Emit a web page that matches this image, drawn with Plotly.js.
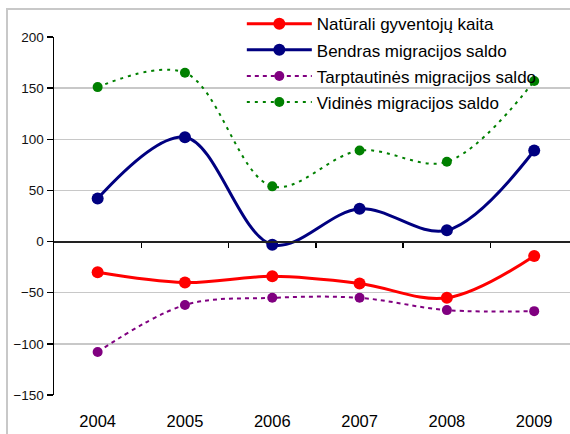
<!DOCTYPE html>
<html>
<head>
<meta charset="utf-8">
<script src="https://cdn.plot.ly/plotly-3.0.1.min.js"></script>
<style>html,body{margin:0;padding:0;background:#fff;}#chart{width:570px;height:434px;}</style>
</head>
<body>
<div id="chart"></div>
<script>
const years = ["2004", "2005", "2006", "2007", "2008", "2009"];
const naturali = [-30, -40, -34, -41, -55, -14];
const bendras = [42, 102, -3, 32, 11, 89];
const tarptautines = [-108, -62, -55, -55, -67, -68];
const vidines = [151, 165, 54, 89, 78, 157];
const seriesNames = ["Natūrali gyventojų kaita", "Bendras migracijos saldo", "Tarptautinės migracijos saldo", "Vidinės migracijos saldo"];
const yTicks = [-150, -100, -50, 0, 50, 100, 150, 200];
const boundaryTicks = [0.5, 1.5, 2.5, 3.5, 4.5];

const font = "Liberation Sans, Arial, sans-serif";

const traces = [
  {x: years, y: naturali, name: seriesNames[0], legendgroup: "g1", mode: "lines+markers",
   line: {color: "#ff0000", width: 3, shape: "spline", smoothing: 1},
   marker: {color: "#ff0000", size: 12}},
  {x: years, y: bendras, name: seriesNames[1], legendgroup: "g2", mode: "lines+markers",
   line: {color: "#000080", width: 3, shape: "spline", smoothing: 1},
   marker: {color: "#000080", size: 12}},
  {x: years, y: tarptautines, name: seriesNames[2], legendgroup: "g3", mode: "lines+markers",
   line: {color: "#800080", width: 2, dash: "4px,4px", shape: "spline", smoothing: 1},
   marker: {color: "#800080", size: 10}},
  {x: years, y: vidines, name: seriesNames[3], legendgroup: "g4", mode: "lines+markers",
   line: {color: "#008000", width: 2, dash: "3px,5px", shape: "spline", smoothing: 1},
   marker: {color: "#008000", size: 10}},
  {x: [], y: [], xaxis: "x2", yaxis: "y", showlegend: false, hoverinfo: "skip", mode: "lines"}
];

const layout = {
  width: 570, height: 434,
  margin: {l: 54, r: 0, t: 37, b: 39, pad: 0},
  paper_bgcolor: "#ffffff", plot_bgcolor: "rgba(0,0,0,0)",
  font: {family: font, color: "#000000"},
  showlegend: true,
  legend: {x: 0.364, y: 1.086, xanchor: "left", yanchor: "top",
           bgcolor: "rgba(0,0,0,0)", borderwidth: 0,
           font: {family: font, size: 17, color: "#000000"},
           itemwidth: 65, tracegroupgap: 1},
  xaxis: {type: "category", range: [-0.5, 5.41], showline: false, showgrid: false,
          zeroline: false, ticks: "", ticklabelstandoff: 14,
          tickfont: {family: font, size: 16.5, color: "#000000"}, fixedrange: true},
  xaxis2: {overlaying: "x", anchor: "free", position: 150/350, type: "linear",
           range: [-0.5, 5.41], tickvals: boundaryTicks,
           ticks: "outside", ticklen: 5, tickwidth: 1.5, tickcolor: "#000000",
           showline: true, linecolor: "#222222", linewidth: 2,
           showticklabels: false, showgrid: false, zeroline: false},
  yaxis: {range: [-150, 200], tickvals: yTicks, showline: true, linecolor: "#000000", linewidth: 1.5,
          ticks: "outside", ticklen: 6, tickwidth: 1.5, tickcolor: "#000000",
          showgrid: true, gridcolor: "#c8c8c8", gridwidth: 1.5, zeroline: false,
          tickfont: {family: font, size: 13.5, color: "#111111"}, fixedrange: true},
  shapes: [
    {type: "rect", xref: "paper", yref: "paper", x0: -0.0911, x1: 1.05, y0: -0.2, y1: 1.0782,
     line: {color: "#c8c8c8", width: 2}, fillcolor: "rgba(0,0,0,0)", layer: "below"},
    {type: "rect", xref: "paper", yref: "paper", x0: 0.3043, x1: 1.05, y0: 0.754, y1: 1.072,
     line: {width: 0}, fillcolor: "#ffffff", layer: "between"}
  ]
};

Plotly.newPlot("chart", traces, layout, {displayModeBar: false, staticPlot: true});
</script>
</body>
</html>
